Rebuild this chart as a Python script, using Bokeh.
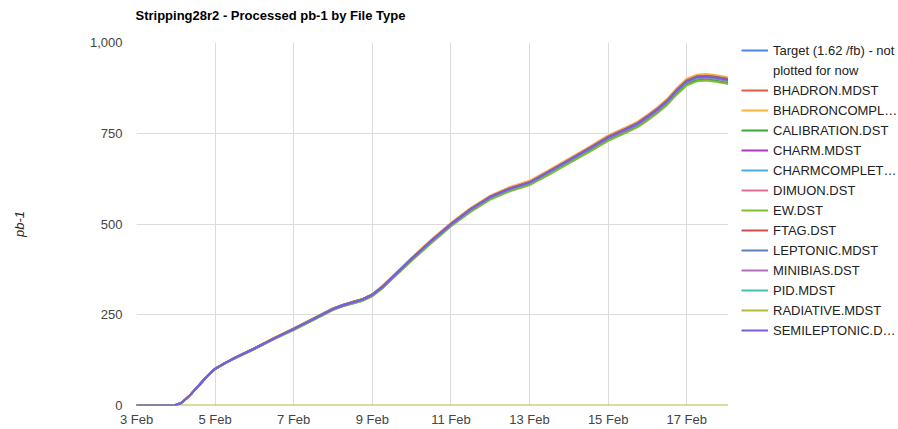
import pandas as pd
from bokeh.plotting import figure
from bokeh.layouts import row
from bokeh.models import FixedTicker, NumeralTickFormatter, Legend, LegendItem, Range1d, Title
from bokeh.embed import file_html
from bokeh.resources import INLINE

# ---------------- data ----------------
times = ["2024-02-03 00:00", "2024-02-03 23:00", "2024-02-04 03:00", "2024-02-04 06:00",
         "2024-02-04 09:00", "2024-02-04 12:00", "2024-02-04 15:00", "2024-02-04 18:00",
         "2024-02-04 21:00", "2024-02-05 00:00", "2024-02-05 06:00", "2024-02-05 12:00",
         "2024-02-06 00:00", "2024-02-06 12:00", "2024-02-07 00:00", "2024-02-07 12:00",
         "2024-02-08 00:00", "2024-02-08 06:00", "2024-02-08 12:00", "2024-02-08 18:00",
         "2024-02-09 00:00", "2024-02-09 06:00", "2024-02-09 12:00", "2024-02-10 00:00",
         "2024-02-10 12:00", "2024-02-11 00:00", "2024-02-11 12:00", "2024-02-12 00:00",
         "2024-02-12 12:00", "2024-02-13 00:00", "2024-02-13 12:00", "2024-02-14 00:00",
         "2024-02-14 12:00", "2024-02-15 00:00", "2024-02-15 12:00", "2024-02-15 18:00",
         "2024-02-16 00:00", "2024-02-16 06:00", "2024-02-16 12:00", "2024-02-16 18:00",
         "2024-02-17 00:00", "2024-02-17 06:00", "2024-02-17 12:00", "2024-02-17 18:00",
         "2024-02-18 00:00", "2024-02-18 02:00"]

BHADRON_MDST = [0, 0, 6, 17, 30, 45, 60, 75, 89, 101, 117, 131, 158, 186, 212, 239, 267, 277, 285, 293,
                306, 327, 353, 405, 455, 501, 542, 576, 599, 616, 646, 677, 708, 740, 766, 779, 798, 818,
                841, 871, 896, 907, 909, 906, 901, 899]
BHADRONCOMPL = [0, 0, 6, 17, 30, 45, 60, 76, 90, 102, 118, 132, 158, 186, 213, 240, 268, 278, 286, 294,
                307, 329, 355, 407, 457, 503, 544, 578, 602, 619, 649, 680, 711, 744, 769, 782, 801, 821,
                844, 875, 900, 911, 913, 910, 905, 903]
CALIBRATION_DST = [0, 0, 6, 17, 30, 45, 59, 74, 88, 100, 116, 130, 156, 183, 209, 236, 264, 274, 281, 289,
                   302, 323, 349, 400, 449, 495, 535, 569, 592, 609, 638, 669, 700, 731, 756, 769, 788, 808,
                   831, 860, 885, 896, 898, 895, 890, 888]
CHARM_MDST = [0, 0, 6, 17, 30, 45, 60, 75, 89, 101, 117, 131, 157, 185, 211, 238, 266, 276, 284, 292,
              305, 326, 352, 404, 454, 500, 541, 575, 598, 615, 645, 676, 707, 739, 764, 777, 796, 816,
              839, 869, 894, 905, 907, 904, 899, 897]
CHARMCOMPLET = [0, 0, 6, 17, 30, 45, 60, 75, 89, 101, 117, 131, 157, 185, 211, 239, 267, 277, 285, 293,
                306, 327, 353, 405, 454, 500, 541, 575, 598, 615, 645, 676, 708, 740, 765, 778, 797, 817,
                840, 870, 895, 906, 908, 905, 900, 898]
DIMUON_DST = [0, 0, 6, 17, 30, 45, 60, 75, 89, 101, 117, 131, 157, 185, 211, 238, 266, 276, 284, 292,
              305, 326, 352, 404, 453, 499, 540, 574, 597, 614, 644, 675, 706, 738, 763, 776, 795, 815,
              838, 868, 893, 904, 906, 903, 898, 896]
EW_DST = [0, 0, 6, 17, 30, 44, 59, 74, 88, 100, 116, 129, 155, 183, 208, 235, 263, 273, 281, 288,
          301, 322, 348, 399, 447, 493, 533, 567, 590, 607, 636, 667, 697, 729, 754, 767, 785, 805,
          828, 857, 882, 893, 895, 892, 887, 885]
FTAG_DST = [0, 0, 6, 17, 30, 45, 60, 75, 89, 101, 117, 131, 157, 185, 211, 239, 267, 277, 285, 293,
            306, 327, 353, 405, 454, 500, 541, 575, 598, 615, 645, 676, 708, 740, 765, 778, 797, 817,
            840, 870, 895, 906, 908, 905, 900, 898]
LEPTONIC_MDST = [0, 0, 6, 17, 30, 45, 60, 75, 89, 101, 117, 131, 157, 185, 211, 237, 265, 275, 283, 291,
                 304, 325, 351, 403, 452, 498, 539, 573, 596, 613, 643, 674, 704, 736, 761, 774, 793, 813,
                 836, 866, 891, 902, 904, 901, 896, 894]
MINIBIAS_DST = [0, 0, 6, 17, 30, 45, 60, 75, 89, 101, 117, 131, 156, 184, 210, 237, 265, 275, 283, 291,
                304, 325, 351, 403, 451, 497, 538, 572, 595, 612, 642, 673, 704, 736, 760, 773, 792, 812,
                835, 865, 890, 901, 903, 900, 895, 893]
PID_MDST = [0, 0, 6, 17, 30, 45, 60, 75, 89, 101, 117, 131, 157, 185, 211, 238, 266, 276, 284, 292,
            305, 326, 352, 404, 452, 498, 539, 573, 596, 613, 643, 674, 705, 737, 762, 775, 794, 814,
            837, 867, 892, 903, 905, 902, 897, 895]
RADIATIVE_MDST = [0, 0, 0, 0, 0, 0, 0, 0, 0, 0, 0, 0, 0, 0, 0, 0, 0, 0, 0, 0, 0, 0, 0,
                  0, 0, 0, 0, 0, 0, 0, 0, 0, 0, 0, 0, 0, 0, 0, 0, 0, 0, 0, 0, 0, 0, 0]
SEMILEPTONIC = [0, 0, 6, 17, 30, 45, 60, 75, 89, 101, 117, 131, 157, 185, 211, 238, 266, 276, 284, 292,
                305, 326, 352, 404, 453, 499, 540, 574, 597, 614, 644, 675, 706, 738, 763, 776, 795, 815,
                838, 868, 893, 904, 906, 903, 898, 896]

series_labels = ["BHADRON.MDST", "BHADRONCOMPL\u2026", "CALIBRATION.DST", "CHARM.MDST",
                 "CHARMCOMPLET\u2026", "DIMUON.DST", "EW.DST", "FTAG.DST", "LEPTONIC.MDST",
                 "MINIBIAS.DST", "PID.MDST", "RADIATIVE.MDST", "SEMILEPTONIC.D\u2026"]
series_values = [BHADRON_MDST, BHADRONCOMPL, CALIBRATION_DST, CHARM_MDST, CHARMCOMPLET, DIMUON_DST,
                 EW_DST, FTAG_DST, LEPTONIC_MDST, MINIBIAS_DST, PID_MDST, RADIATIVE_MDST, SEMILEPTONIC]
series_colors = ["#e8593f", "#f9b03c", "#3aa63a", "#a93ab8", "#44aede", "#e46c95", "#7dbd32",
                 "#cc4e4e", "#5a80b4", "#b46cbf", "#45bfae", "#b7b73a", "#7b5ae0"]
target_label = ["Target (1.62 /fb) - not", "plotted for now"]
target_color = "#4d86e6"

tick_dates = ["2024-02-03", "2024-02-05", "2024-02-07", "2024-02-09", "2024-02-11",
              "2024-02-13", "2024-02-15", "2024-02-17"]
tick_labels = ["3 Feb", "5 Feb", "7 Feb", "9 Feb", "11 Feb", "13 Feb", "15 Feb", "17 Feb"]
y_ticks = [0, 250, 500, 750, 1000]
x_start, x_end = "2024-02-03 00:00", "2024-02-18 01:30"

for vals in series_values:
    if len(vals) != len(times):
        raise ValueError("length mismatch %d" % len(vals))

# ---------------- main figure ----------------
FONT = "Liberation Sans"
x = pd.to_datetime(times)


def ms(s):
    return pd.Timestamp(s).value / 1e6


p = figure(width=728, height=429, x_axis_type="datetime", output_backend="svg",
           toolbar_location=None, min_border_left=136, min_border_right=0,
           min_border_top=42, min_border_bottom=22,
           x_range=Range1d(ms(x_start), ms(x_end)), y_range=Range1d(0, 1000),
           title="Stripping28r2 - Processed pb-1 by File Type")

p.title.text_font = FONT
p.title.text_font_size = "13px"
p.title.text_font_style = "bold"
p.title.text_color = "#000000"
p.title.align = "left"
p.title.standoff = 8
p.title.offset = -1
# empty spacer between title and plot area
p.add_layout(Title(text=" ", text_font_size="12px", standoff=0), "above")

p.outline_line_color = None
p.background_fill_color = "white"
p.border_fill_color = "white"

tick_ms = [ms(d) for d in tick_dates]
p.xaxis.ticker = FixedTicker(ticks=tick_ms)
p.xaxis.major_label_overrides = {t: l for t, l in zip(tick_ms, tick_labels)}
p.yaxis.ticker = FixedTicker(ticks=y_ticks)
p.yaxis.formatter = NumeralTickFormatter(format="0,0")

for ax in (p.xaxis[0], p.yaxis[0]):
    ax.axis_line_color = None
    ax.major_tick_line_color = None
    ax.minor_tick_line_color = None
    ax.major_tick_out = 0
    ax.major_tick_in = 0
    ax.minor_tick_out = 0
    ax.major_label_text_font = FONT
    ax.major_label_text_font_size = "13px"
    ax.major_label_text_color = "#444444"
p.xaxis.major_label_standoff = 6
p.yaxis.major_label_standoff = 14
p.yaxis.axis_label = "pb-1"
p.yaxis.axis_label_text_font = FONT
p.yaxis.axis_label_text_font_size = "13px"
p.yaxis.axis_label_text_font_style = "italic"
p.yaxis.axis_label_text_color = "#222222"
p.yaxis.axis_label_standoff = 60

p.xgrid.ticker = FixedTicker(ticks=tick_ms)
p.xgrid.grid_line_color = "#dcdcdc"
p.ygrid.grid_line_color = "#dcdcdc"

for vals, col in zip(series_values, series_colors):
    p.line(x=x, y=vals, line_color=col, line_width=2, line_join="round")

# ---------------- legend panel (separate figure) ----------------
lg = figure(width=170, height=429, output_backend="svg", toolbar_location=None,
            min_border=0, x_axis_location=None, y_axis_location=None,
            x_range=Range1d(0, 1), y_range=Range1d(0, 1))
lg.outline_line_color = None
lg.xgrid.visible = False
lg.ygrid.visible = False
lg.border_fill_color = "white"

# legend swatch renderers: their data lie outside the visible ranges
off_x, off_y = [5, 6], [5, 6]
items = []
r_target = lg.line(x=off_x, y=off_y, line_color=target_color, line_width=2)
r_dummy = lg.line(x=off_x, y=off_y, line_color=target_color, line_width=2, line_alpha=0)
items.append(LegendItem(label=target_label[0], renderers=[r_target]))
items.append(LegendItem(label=target_label[1], renderers=[r_dummy]))
for lab, col in zip(series_labels, series_colors):
    r = lg.line(x=off_x, y=off_y, line_color=col, line_width=2)
    items.append(LegendItem(label=lab, renderers=[r]))

legend = Legend(items=items, location=(13, 65), orientation="vertical")
legend.margin = 0
legend.padding = 0
legend.spacing = 0
legend.border_line_color = None
legend.background_fill_alpha = 0
legend.glyph_width = 27
legend.glyph_height = 20
legend.label_height = 20
legend.label_standoff = 5
legend.label_text_font = FONT
legend.label_text_font_size = "13px"
legend.label_text_color = "#222222"
lg.add_layout(legend)

layout = row(p, lg, spacing=0)
open("out.html", "w").write(file_html(layout, INLINE))
